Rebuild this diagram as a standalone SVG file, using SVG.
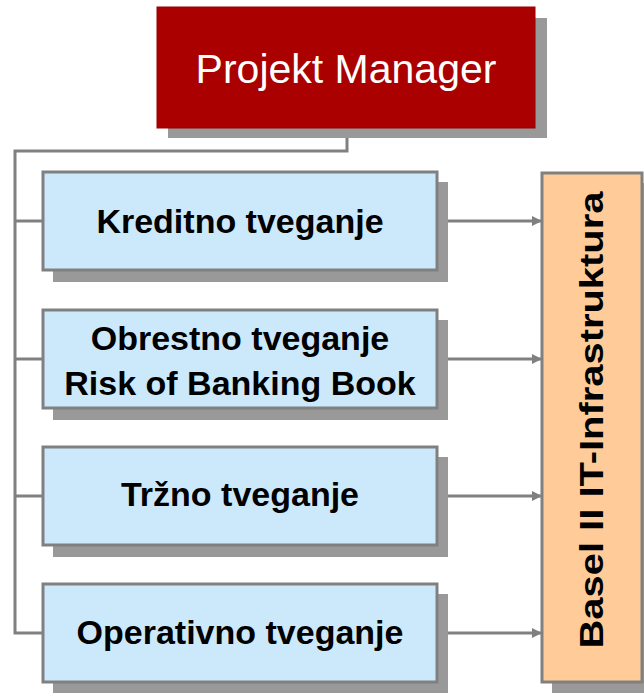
<svg xmlns="http://www.w3.org/2000/svg" width="644" height="693" viewBox="0 0 644 693">
  <style>
    .shadow { fill: #999999; }
    .risk { fill: #CCE9FC; stroke: #808080; stroke-width: 3; }
    .label { font-family: "Liberation Sans", Arial, sans-serif; font-weight: bold; font-size: 34px; fill: #000000; text-anchor: middle; }
    .wire { fill: none; stroke: #808080; stroke-width: 3; }
  </style>
  <defs>
    <marker id="arrow" markerWidth="10" markerHeight="10" refX="9" refY="5" orient="auto" markerUnits="userSpaceOnUse">
      <path d="M0,0 L10,5 L0,10 Z" fill="#808080"/>
    </marker>
  </defs>
  <rect width="644" height="693" fill="#ffffff"/>

  <!-- connectors -->
  <g id="connectors">
    <path class="wire" d="M347,128 V151 H15 V633 H43"/>
    <path class="wire" d="M15,221 H43"/>
    <path class="wire" d="M15,359 H43"/>
    <path class="wire" d="M15,496 H43"/>
    <path class="wire" d="M447,221 H541" marker-end="url(#arrow)"/>
    <path class="wire" d="M447,359 H541" marker-end="url(#arrow)"/>
    <path class="wire" d="M447,496 H541" marker-end="url(#arrow)"/>
    <path class="wire" d="M447,633 H541" marker-end="url(#arrow)"/>
  </g>

  <!-- project manager -->
  <g id="projekt-manager">
    <rect class="shadow" x="168" y="18" width="379" height="120"/>
    <rect x="157" y="7" width="378" height="121" fill="#AA0000" stroke="#990000" stroke-width="1"/>
    <text x="346" y="83" font-family="Liberation Sans, Arial, sans-serif" font-size="41" fill="#ffffff" text-anchor="middle">Projekt Manager</text>
  </g>

  <g id="kreditno">
    <rect class="shadow" x="53" y="182" width="395" height="100"/>
    <rect class="risk" x="43" y="172" width="394" height="98"/>
    <text class="label" x="240" y="233">Kreditno tveganje</text>
  </g>

  <g id="obrestno">
    <rect class="shadow" x="53" y="320" width="395" height="100"/>
    <rect class="risk" x="43" y="310" width="394" height="98"/>
    <text class="label" x="240" y="350">Obrestno tveganje</text>
    <text class="label" x="240" y="395">Risk of Banking Book</text>
  </g>

  <g id="trzno">
    <rect class="shadow" x="53" y="457" width="395" height="100"/>
    <rect class="risk" x="43" y="447" width="394" height="98"/>
    <text class="label" x="240" y="506">Tržno tveganje</text>
  </g>

  <g id="operativno">
    <rect class="shadow" x="53" y="594" width="395" height="100"/>
    <rect class="risk" x="43" y="584" width="394" height="98"/>
    <text class="label" x="240" y="644">Operativno tveganje</text>
  </g>

  <g id="basel">
    <rect class="shadow" x="552" y="183" width="100" height="510"/>
    <rect x="542" y="173" width="100" height="509" fill="#FFCC99" stroke="#808080" stroke-width="3"/>
    <text class="label" transform="translate(603,420) rotate(-90)" x="0" y="0" textLength="457" lengthAdjust="spacingAndGlyphs">Basel II IT-Infrastruktura</text>
  </g>
</svg>
